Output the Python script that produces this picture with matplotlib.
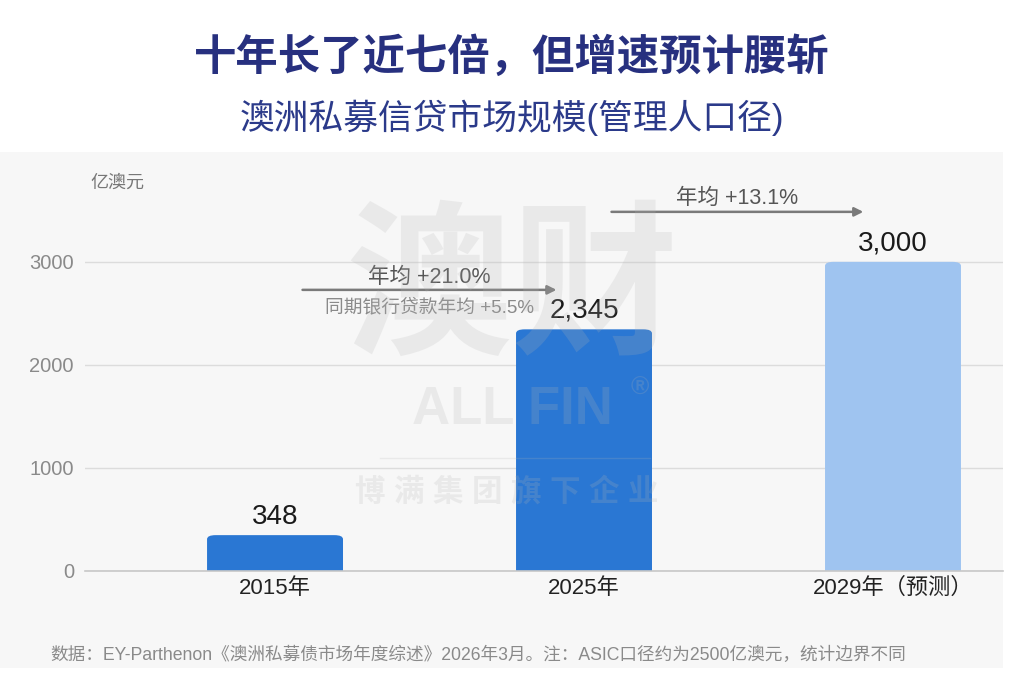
import numpy as np
import matplotlib.pyplot as plt
from matplotlib.patches import Rectangle, FancyBboxPatch

plt.rcParams['font.family'] = ['Liberation Sans', 'Noto Sans CJK SC', 'DejaVu Sans']

# data
categories = ['2015年', '2025年', '2029年（预测）']
values = [348, 2345, 3000]
value_labels = ['348', '2,345', '3,000']
bar_colors = ['#2a77d3', '#2a77d3', '#9fc4f0']
cagr_1 = '年均 +21.0%'
cagr_1_note = '同期银行贷款年均 +5.5%'
cagr_2 = '年均 +13.1%'
yticks = [0, 1000, 2000, 3000]

title = '十年长了近七倍，但增速预计腰斩'
subtitle = '澳洲私募信贷市场规模(管理人口径)'
unit = '亿澳元'
source = '数据：EY-Parthenon《澳洲私募债市场年度综述》2026年3月。注：ASIC口径约为2500亿澳元，统计边界不同'

W, H = 1024, 692
fig = plt.figure(figsize=(W / 100, H / 100), dpi=100)
fig.patch.set_facecolor('white')

# light gray panel behind the chart
fig.patches.append(Rectangle((0, 24 / H), 1003 / W, (668 - 152) / H,
                             transform=fig.transFigure, facecolor='#f7f7f7',
                             edgecolor='none', zorder=-5))

# axes: x 85..1003 px, y 571..200 px
ax = fig.add_axes([85 / W, (H - 571) / H, (1003 - 85) / W, (571 - 200) / H])
ax.set_facecolor('none')
ax.set_zorder(1)

x = np.arange(len(categories))
bars = ax.bar(x, values, width=0.44, color=bar_colors, zorder=3)

ax.set_xlim(-0.615, 2.356)
ax.set_ylim(0, 3600)

# swap plain bars for ones with softly rounded tops
for b in bars:
    b.set_visible(False)
    rb = FancyBboxPatch((b.get_x(), -200), b.get_width(), b.get_height() + 200,
                        boxstyle='round,pad=0,rounding_size=0.028',
                        mutation_aspect=1400, facecolor=b.get_facecolor(),
                        edgecolor='none', zorder=3)
    ax.add_patch(rb)

ax.set_yticks(yticks)
ax.set_yticklabels([str(v) for v in yticks], color='#8a8a8a', fontsize=14.5)
ax.set_xticks(x)
ax.set_xticklabels(categories, fontsize=16, color='#222222')
ax.tick_params(axis='both', length=0)
ax.tick_params(axis='y', pad=8)
ax.tick_params(axis='x', pad=5)
for s in ['top', 'right', 'left']:
    ax.spines[s].set_visible(False)
ax.spines['bottom'].set_color('#c8c8c8')
ax.spines['bottom'].set_linewidth(1.2)
ax.spines['bottom'].set_zorder(4)
ax.grid(axis='y', color='#dcdcdc', linewidth=1, zorder=1)
ax.set_axisbelow(True)

for b, lab in zip(bars, value_labels):
    ax.annotate(lab, (b.get_x() + b.get_width() / 2, b.get_height()),
                xytext=(0, 4), textcoords='offset points',
                ha='center', va='bottom', fontsize=20, color='#1a1a1a')

# growth arrows
arrow_style = dict(arrowstyle='-|>', color='#7a7a7a', lw=1.8, mutation_scale=13)
ax.annotate('', xy=(x[1] - 0.08, 2728), xytext=(x[0] + 0.08, 2728),
            arrowprops=arrow_style, annotation_clip=False)
mid1 = (x[0] + x[1]) / 2
ax.text(mid1, 2850, cagr_1, ha='center', va='center', fontsize=15.5, color='#555555')
ax.text(mid1, 2560, cagr_1_note, ha='center', va='center', fontsize=13.5, color='#8a8a8a')

ax.annotate('', xy=(x[2] - 0.087, 3485), xytext=(x[1] + 0.08, 3485),
            arrowprops=arrow_style, annotation_clip=False)
mid2 = (x[1] + x[2]) / 2 - 0.005
ax.text(mid2, 3615, cagr_2, ha='center', va='center', fontsize=15.5, color='#555555',
        clip_on=False)

# watermark (faint, over everything)
wm = dict(transform=fig.transFigure, ha='center', va='center', fontweight='bold',
          zorder=10, clip_on=False, color='#b4b4b4', alpha=0.2)
ax.text(512 / W, 1 - 298 / H, '澳财', fontsize=120, **wm)
ax.text(512 / W, 1 - 410 / H, 'ALL FIN', fontsize=38, **wm)
ax.text(640 / W, 1 - 388 / H, '®', fontsize=18, **wm)
ax.text(507 / W, 1 - 493 / H, '博 满 集 团 旗 下 企 业', fontsize=22, **wm)
ax.plot([380 / W, 650 / W], [1 - 458 / H, 1 - 458 / H], transform=fig.transFigure,
        color='#b4b4b4', alpha=0.2, lw=1, zorder=10, clip_on=False)

# titles and notes
fig.text(512 / W, 1 - 58 / H, title, ha='center', va='center', fontsize=30.5,
         fontweight='bold', color='#27307f')
fig.text(512 / W, 1 - 118 / H, subtitle, ha='center', va='center', fontsize=25,
         color='#2b3a8a')
fig.text(90 / W, 1 - 183 / H, unit, ha='left', va='center', fontsize=13, color='#777777')
fig.text(50 / W, 1 - 655 / H, source, ha='left', va='center', fontsize=12.7,
         color='#8a8a8a')

fig.savefig('out.png', dpi=100, facecolor='white')
